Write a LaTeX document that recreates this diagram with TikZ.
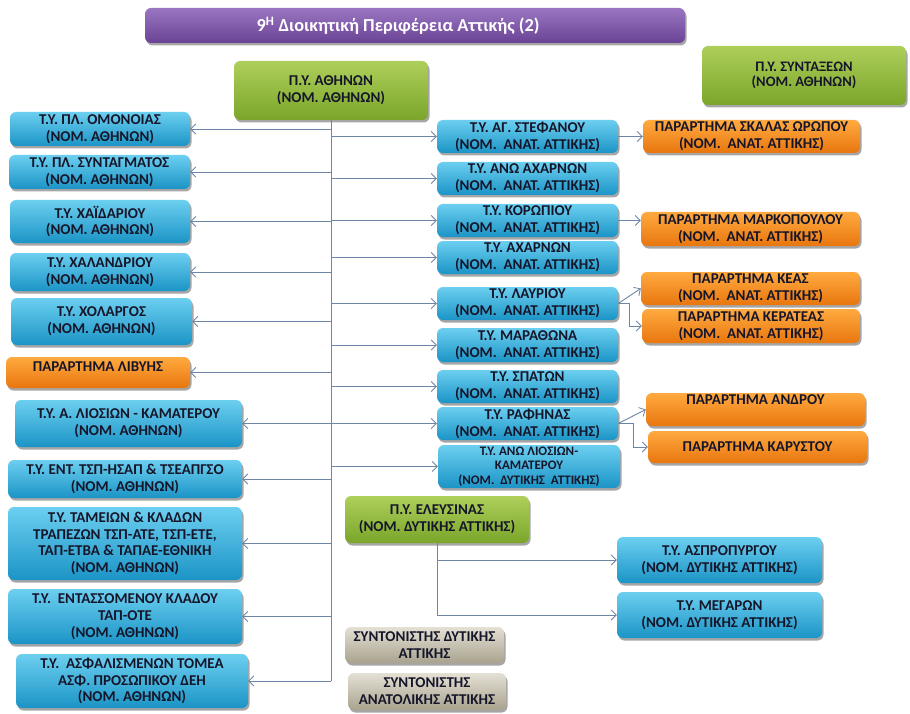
\documentclass[tikz,border=0pt]{standalone}
\usepackage{fontspec}
\setmainfont{Carlito}
\usetikzlibrary{arrows.meta,shadows}
\definecolor{txt}{HTML}{16162A}
\definecolor{lnc}{HTML}{6E86A6}
\definecolor{blueT}{HTML}{6CCFF0}
\definecolor{blueB}{HTML}{1B94C6}
\definecolor{orT}{HTML}{FFAA40}
\definecolor{orB}{HTML}{E8760E}
\definecolor{grT}{HTML}{AECF5A}
\definecolor{grB}{HTML}{7AA52A}
\definecolor{gyT}{HTML}{E4E0D4}
\definecolor{gyB}{HTML}{A9A28E}
\definecolor{puT}{HTML}{9A76C2}
\definecolor{puB}{HTML}{6A4394}
\newcommand\Bx[7]{\node[#1,minimum width={#4-#2},minimum height={#5-#3}] (#6) at ({(#2+#4)/2},{(#3+#5)/2}) {#7};}
\begin{document}
\begin{tikzpicture}[x=1pt,y=-1pt,
  box/.style={rounded corners=6pt, inner sep=0pt, align=center, text=txt,
    font=\bfseries\fontsize{15}{16.8}\selectfont,
    drop shadow={shadow xshift=1.5pt, shadow yshift=-2.5pt, opacity=0.35, fill=black}},
  bluebox/.style={box, top color=blueT, bottom color=blueB},
  orbox/.style={box, top color=orT, bottom color=orB},
  grbox/.style={box, top color=grT, bottom color=grB},
  gybox/.style={box, top color=gyT, bottom color=gyB},
  pubox/.style={box, top color=puT, bottom color=puB, text=white,
    font=\bfseries\fontsize{18.3}{22}\selectfont},
  conn/.style={draw=lnc, line width=0.9pt, -{Straight Barb[length=5pt,width=10pt,line width=0.8pt]}},
  trunk/.style={draw=lnc, line width=0.9pt}]
\fill[white] (0,0) rectangle (910,714);
\useasboundingbox (0,0) rectangle (910,714);

\Bx{pubox}{145}{8}{685}{43}{title}{9\textsuperscript{Η} Διοικητική Περιφέρεια Αττικής (2)\kern34pt}
\Bx{grbox}{234}{61}{428}{120}{athens}{Π.Υ. ΑΘΗΝΩΝ\\(ΝΟΜ. ΑΘΗΝΩΝ)}
\Bx{grbox,font=\bfseries\fontsize{14.5}{15.5}\selectfont}{702}{46}{906}{105}{synt}{Π.Υ. ΣΥΝΤΑΞΕΩΝ\\(ΝΟΜ. ΑΘΗΝΩΝ)}

\Bx{bluebox}{10}{112}{190}{146}{l1}{Τ.Υ. ΠΛ. ΟΜΟΝΟΙΑΣ\\(ΝΟΜ. ΑΘΗΝΩΝ)}
\Bx{bluebox}{9}{155}{190}{189}{l2}{Τ.Υ. ΠΛ. ΣΥΝΤΑΓΜΑΤΟΣ\\(ΝΟΜ. ΑΘΗΝΩΝ)}
\Bx{bluebox}{10}{200}{190}{243}{l3}{Τ.Υ. ΧΑΪΔΑΡΙΟΥ\\(ΝΟΜ. ΑΘΗΝΩΝ)}
\Bx{bluebox}{10}{253}{190}{291}{l4}{Τ.Υ. ΧΑΛΑΝΔΡΙΟΥ\\(ΝΟΜ. ΑΘΗΝΩΝ)}
\Bx{bluebox}{11}{298}{192}{345}{l5}{Τ.Υ. ΧΟΛΑΡΓΟΣ\\(ΝΟΜ. ΑΘΗΝΩΝ)}
\Bx{orbox,text depth=11pt}{6}{357}{190}{388}{l6}{ΠΑΡΑΡΤΗΜΑ ΛΙΒΥΗΣ}
\Bx{bluebox}{15}{400}{242}{447}{l7}{Τ.Υ. Α. ΛΙΟΣΙΩΝ - ΚΑΜΑΤΕΡΟΥ\\(ΝΟΜ. ΑΘΗΝΩΝ)}
\Bx{bluebox}{8}{460}{242}{498}{l8}{Τ.Υ. ΕΝΤ. ΤΣΠ-ΗΣΑΠ \& ΤΣΕΑΠΓΣΟ\\(ΝΟΜ. ΑΘΗΝΩΝ)}
\Bx{bluebox}{8}{507}{242}{580}{l9}{Τ.Υ. ΤΑΜΕΙΩΝ \& ΚΛΑΔΩΝ\\ΤΡΑΠΕΖΩΝ ΤΣΠ-ΑΤΕ, ΤΣΠ-ΕΤΕ,\\ΤΑΠ-ΕΤΒΑ \& ΤΑΠΑΕ-ΕΘΝΙΚΗ\\(ΝΟΜ. ΑΘΗΝΩΝ)}
\Bx{bluebox}{8}{589}{242}{644}{l10}{Τ.Υ.\ \ ΕΝΤΑΣΣΟΜΕΝΟΥ ΚΛΑΔΟΥ\\ΤΑΠ-ΟΤΕ\\(ΝΟΜ. ΑΘΗΝΩΝ)}
\Bx{bluebox}{16}{654}{248}{708}{l11}{Τ.Υ.\ \ ΑΣΦΑΛΙΣΜΕΝΩΝ ΤΟΜΕΑ\\ΑΣΦ. ΠΡΟΣΩΠΙΚΟΥ ΔΕΗ\\(ΝΟΜ. ΑΘΗΝΩΝ)}

\Bx{bluebox}{437}{120}{618}{153}{m1}{Τ.Υ. ΑΓ. ΣΤΕΦΑΝΟΥ\\(ΝΟΜ.\ \ ΑΝΑΤ. ΑΤΤΙΚΗΣ)}
\Bx{bluebox}{437}{162}{618}{195}{m2}{Τ.Υ. ΑΝΩ ΑΧΑΡΝΩΝ\\(ΝΟΜ.\ \ ΑΝΑΤ. ΑΤΤΙΚΗΣ)}
\Bx{bluebox}{437}{204}{618}{237}{m3}{Τ.Υ. ΚΟΡΩΠΙΟΥ\\(ΝΟΜ.\ \ ΑΝΑΤ. ΑΤΤΙΚΗΣ)}
\Bx{bluebox}{437}{241}{618}{274}{m4}{Τ.Υ. ΑΧΑΡΝΩΝ\\(ΝΟΜ.\ \ ΑΝΑΤ. ΑΤΤΙΚΗΣ)}
\Bx{bluebox}{437}{287}{618}{320}{m5}{Τ.Υ. ΛΑΥΡΙΟΥ\\(ΝΟΜ.\ \ ΑΝΑΤ. ΑΤΤΙΚΗΣ)}
\Bx{bluebox}{437}{328}{618}{362}{m6}{Τ.Υ. ΜΑΡΑΘΩΝΑ\\(ΝΟΜ.\ \ ΑΝΑΤ. ΑΤΤΙΚΗΣ)}
\Bx{bluebox}{437}{370}{618}{403}{m7}{Τ.Υ. ΣΠΑΤΩΝ\\(ΝΟΜ.\ \ ΑΝΑΤ. ΑΤΤΙΚΗΣ)}
\Bx{bluebox}{437}{407}{618}{440}{m8}{Τ.Υ. ΡΑΦΗΝΑΣ\\(ΝΟΜ.\ \ ΑΝΑΤ. ΑΤΤΙΚΗΣ)}
\Bx{bluebox,font=\bfseries\fontsize{13}{14.5}\selectfont}{438}{445}{620}{488}{m9}{Τ.Υ. ΑΝΩ ΛΙΟΣΙΩΝ-\\ΚΑΜΑΤΕΡΟΥ\\(ΝΟΜ.\ \ ΔΥΤΙΚΗΣ\ \ ΑΤΤΙΚΗΣ)}

\Bx{orbox}{643}{120}{860}{153}{o1}{ΠΑΡΑΡΤΗΜΑ ΣΚΑΛΑΣ ΩΡΩΠΟΥ\\(ΝΟΜ.\ \ ΑΝΑΤ. ΑΤΤΙΚΗΣ)}
\Bx{orbox}{641}{212}{860}{246}{o2}{ΠΑΡΑΡΤΗΜΑ ΜΑΡΚΟΠΟΥΛΟΥ\\(ΝΟΜ.\ \ ΑΝΑΤ. ΑΤΤΙΚΗΣ)}
\Bx{orbox}{641}{272}{860}{305}{o3}{ΠΑΡΑΡΤΗΜΑ ΚΕΑΣ\\(ΝΟΜ.\ \ ΑΝΑΤ. ΑΤΤΙΚΗΣ)}
\Bx{orbox}{642}{309}{860}{343}{o4}{ΠΑΡΑΡΤΗΜΑ ΚΕΡΑΤΕΑΣ\\(ΝΟΜ.\ \ ΑΝΑΤ. ΑΤΤΙΚΗΣ)}
\Bx{orbox,text depth=19pt}{646}{393}{865}{426}{o5}{ΠΑΡΑΡΤΗΜΑ ΑΝΔΡΟΥ}
\Bx{orbox}{648}{431}{867}{463}{o6}{ΠΑΡΑΡΤΗΜΑ ΚΑΡΥΣΤΟΥ}

\Bx{grbox}{345}{496}{529}{543}{eleus}{Π.Υ. ΕΛΕΥΣΙΝΑΣ\\(ΝΟΜ. ΔΥΤΙΚΗΣ ΑΤΤΙΚΗΣ)}
\Bx{bluebox}{617}{537}{822}{583}{asp}{Τ.Υ. ΑΣΠΡΟΠΥΡΓΟΥ\\(ΝΟΜ. ΔΥΤΙΚΗΣ ΑΤΤΙΚΗΣ)}
\Bx{bluebox}{617}{592}{822}{638}{meg}{Τ.Υ. ΜΕΓΑΡΩΝ\\(ΝΟΜ. ΔΥΤΙΚΗΣ ΑΤΤΙΚΗΣ)}
\Bx{gybox}{345}{627}{504}{663}{g1}{ΣΥΝΤΟΝΙΣΤΗΣ ΔΥΤΙΚΗΣ\\ΑΤΤΙΚΗΣ}
\Bx{gybox}{348}{673}{506}{710}{g2}{ΣΥΝΤΟΝΙΣΤΗΣ\\ΑΝΑΤΟΛΙΚΗΣ ΑΤΤΙΚΗΣ}

% Athens trunk
\draw[trunk] (athens.south) -- (athens.south |- l11.east);
\foreach \n in {l1,l2,l3,l4,l5,l6,l7,l8,l9,l10,l11}
  \draw[conn] (athens.south |- \n.east) -- (\n.east);
\foreach \n in {m1,m2,m3,m4,m5,m6,m7,m8,m9}
  \draw[conn] (athens.south |- \n.west) -- (\n.west);

% branches to annexes
\draw[conn] (m1.east) -- (o1.west);
\draw[conn] (m3.east) -- (m3.east -| o2.west);
\draw[conn] (m5.east) -- (o3.west);
\draw[conn] (m5.east) -- ++(11,0) |- (o4.west);
\draw[conn] (m8.east) -- (o5.west);
\draw[conn] (m8.east) -- ++(15,0) |- (o6.west);

% Eleusis
\draw[trunk] (eleus.south) -- (eleus.south |- meg.west);
\draw[conn] (eleus.south |- asp.west) -- (asp.west);
\draw[conn] (eleus.south |- meg.west) -- (meg.west);
\end{tikzpicture}
\end{document}
